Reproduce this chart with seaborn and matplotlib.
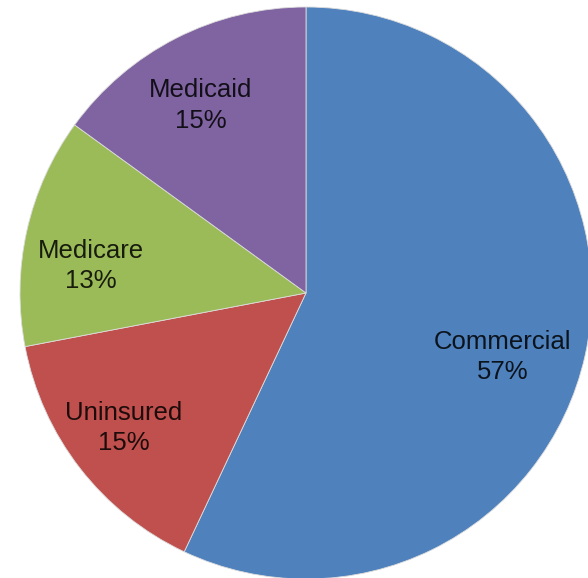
import matplotlib
matplotlib.use("Agg")
import matplotlib.pyplot as plt
import seaborn as sns

# payer mix data
categories = ["Commercial", "Uninsured", "Medicare", "Medicaid"]
shares = [57, 15, 13, 15]
colors = ["#4F81BD", "#C0504D", "#9BBB59", "#8064A2"]

sns.set_theme(style="white")
plt.rcParams['font.family'] = ['Liberation Sans', 'DejaVu Sans']

labels = [c + "\n" + str(v) + "%" for c, v in zip(categories, shares)]

fig = plt.figure(figsize=(5.88, 5.78), dpi=100)
ax = fig.add_axes([0, 0, 1, 1])
wedges, texts = ax.pie(shares, labels=labels, colors=sns.color_palette(colors),
                       startangle=90, counterclock=False, labeldistance=0.77,
                       wedgeprops=dict(edgecolor="#dcdcdc", linewidth=0.6),
                       textprops=dict(fontsize=18.5, color="black", alpha=0.85))

# pie centre sits at (306, 293) px with radius 286 px
r = 286
# small nudges (px) so labels sit like Excel's
nudge = [(-18, -16), (-8, 0), (0, -21), (-5, -9)]
for t, (dx, dy) in zip(texts, nudge):
    x, y = t.get_position()
    t.set_position((x + dx / r, y + dy / r))
    t.set_horizontalalignment("center")
    t.set_verticalalignment("center")
    t.set_linespacing(1.35)

ax.set_xlim(-306 / r, (588 - 306) / r)
ax.set_ylim(-(578 - 293) / r, 293 / r)
ax.axis("off")

plt.savefig("out.png", dpi=100)
